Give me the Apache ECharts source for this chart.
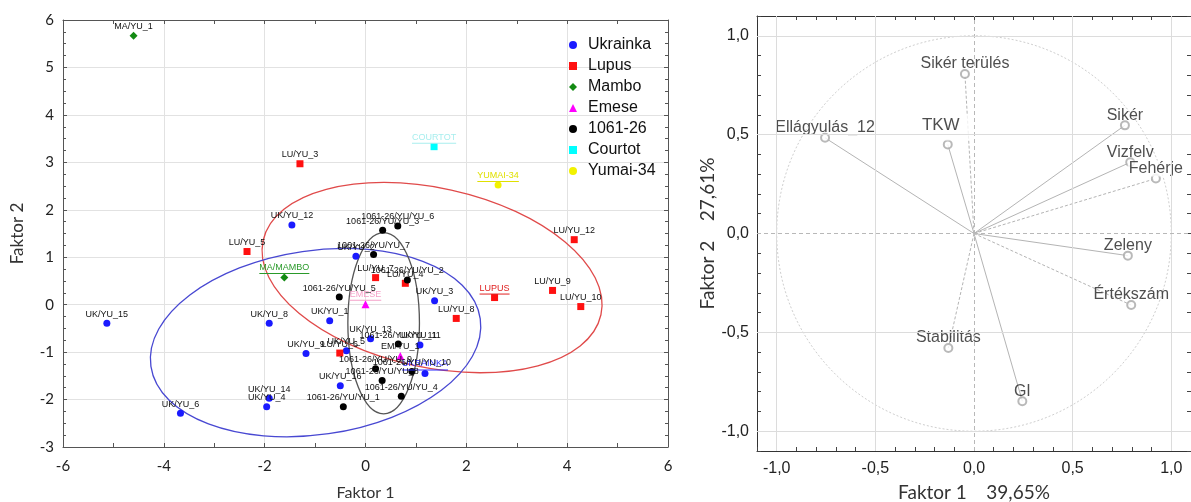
<!DOCTYPE html>
<html><head><meta charset="utf-8">
<script src="https://cdn.jsdelivr.net/npm/echarts@6/dist/echarts.min.js"></script>
<style>html,body{margin:0;padding:0;background:#fff}#c{width:1191px;height:502px}</style>
</head><body><div id="c"></div>
<script>
// ---------- Left panel: factor scores [x, y, label] ----------
const ukrainka = [
  [-1.46, 1.68, 'UK/YU_12'], [-0.19, 1.02, 'UK/YU_2'], [1.37, 0.08, 'UK/YU_3'],
  [-0.71, -0.34, 'UK/YU_1'], [-5.13, -0.39, 'UK/YU_15'], [-1.91, -0.39, 'UK/YU_8'],
  [-1.18, -1.03, 'UK/YU_9'], [-0.38, -0.97, 'UK/YU_5'], [-0.50, -1.71, 'UK/YU_16'],
  [-1.91, -1.97, 'UK/YU_14'], [-1.96, -2.15, 'UK/YU_4'], [-3.67, -2.29, 'UK/YU_6'],
  [0.10, -0.72, 'UK/YU_13'], [1.08, -0.85, 'UK/YU_11'], [1.18, -1.45, 'UKRAINKA']
];
const lupus = [
  [-1.30, 2.97, 'LU/YU_3'], [-2.35, 1.12, 'LU/YU_5'], [4.14, 1.37, 'LU/YU_12'],
  [0.20, 0.57, 'LU/YU_7'], [0.79, 0.45, 'LU/YU_4'], [2.56, 0.15, 'LUPUS'],
  [3.71, 0.30, 'LU/YU_9'], [4.27, -0.04, 'LU/YU_10'], [1.80, -0.29, 'LU/YU_8'],
  [-0.51, -1.02, 'LU/YU_6']
];
const mambo = [[-4.60, 5.67, 'MA/YU_1'], [-1.61, 0.57, 'MA/MAMBO']];
const emese = [[0.00, 0.01, 'EMESE'], [0.69, -1.08, 'EM/YU_1']];
const l106126 = [
  [0.64, 1.66, '1061-26/YU/YU_6'], [0.34, 1.57, '1061-26/YU/YU_3'], [0.16, 1.06, '1061-26/YU/YU_7'],
  [0.83, 0.52, '1061-26/YU/YU_2'], [-0.52, 0.16, '1061-26/YU/YU_5'], [0.65, -0.83, '1061-26/YU/YU_11'],
  [0.20, -1.35, '1061-26/YU/YU_9'], [0.92, -1.41, '1061-26/YU/YU_10'], [0.33, -1.60, '1061-26/YU/YU_8'],
  [0.71, -1.93, '1061-26/YU/YU_4'], [-0.44, -2.15, '1061-26/YU/YU_1']
];
const courtot = [[1.36, 3.33, 'COURTOT']];
const yumai = [[2.63, 2.52, 'YUMAI-34']];
const meanLabels = ['UKRAINKA', 'LUPUS', 'MA/MAMBO', 'EMESE', 'COURTOT', 'YUMAI-34'];

// confidence ellipses: [centerX, centerY, semiAxisX, semiAxisY, rotationDeg]
const ellipseParams = [
  [1.32, 0.57, 3.43, 1.89, -12.4],
  [-0.99, -0.80, 3.30, 1.94, 8.2],
  [0.36, -0.39, 0.71, 1.91, 0]
];
const ellipseColors = ['#e04a4a', '#4848d2', '#555555'];

// ---------- Right panel: factor loadings ----------
const varNames = ['Sikér terülés', 'TKW', 'Ellágyulás_12', 'Sikér', 'Vizfelv', 'Fehérje', 'Zeleny', 'Értékszám', 'Stabilitás', 'GI'];
const varX = [-0.046, -0.133, -0.755, 0.765, 0.792, 0.922, 0.780, 0.797, -0.130, 0.245];
const varY = [0.807, 0.450, 0.484, 0.547, 0.360, 0.278, -0.112, -0.362, -0.579, -0.848];
const varDashed = [true, false, false, false, false, true, false, true, true, false];
const loadTicks = [-1, -0.5, 0, 0.5, 1];

const chart = echarts.init(document.getElementById('c'));
const mctx = document.createElement('canvas').getContext('2d');
function textW(t, font) { mctx.font = font; return mctx.measureText(t).width; }
const LFONT = 'Liberation Sans';

function scoreSeries(name, arr, symbol, color, meanColor, size) {
  return {
    type: 'scatter', name, xAxisIndex: 0, yAxisIndex: 0, symbol, symbolSize: size || 7,
    itemStyle: { color, opacity: 1 }, z: 5,
    label: { show: true, position: 'top', distance: 1, formatter: '{b}', fontSize: 9, fontFamily: LFONT, color: '#111' },
    data: arr.map(p => {
      const d = { value: [p[0], p[1]], name: p[2] };
      if (meanLabels.includes(p[2])) {
        const w = textW(p[2], '9px "' + LFONT + '"');
        d.label = {
          formatter: '{t|' + p[2] + '}\n{u| }', distance: -1,
          rich: {
            t: { color: meanColor, fontSize: 9, fontFamily: LFONT, lineHeight: 10 },
            u: { width: w, height: 1, backgroundColor: meanColor, fontSize: 1, lineHeight: 2 }
          }
        };
      }
      return d;
    })
  };
}

function valueAxisBase(extra) {
  return Object.assign({ type: 'value' }, extra);
}

const leftAxisLine = { onZero: false, lineStyle: { color: '#555' } };
const leftTick = { inside: true, length: 4, lineStyle: { color: '#555' } };

const rightLabelFmt = v => {
  const k = Math.round(v * 10);
  if (k % 5 !== 0) return '';
  const r = k / 10;
  return (r === 0 ? 0 : r).toFixed(1).replace('.', ',');
};

const option = {
  animation: false,
  backgroundColor: '#fff',
  grid: [
    { left: 63, top: 20, width: 605, height: 427, outerBoundsMode: 'none', containLabel: false },
    { left: 757, top: 16, width: 434, height: 435, outerBoundsMode: 'none', containLabel: false }
  ],
  legend: {
    orient: 'vertical', left: 564, top: 32, itemWidth: 8, itemHeight: 8, itemGap: 5,
    textStyle: { fontSize: 16, fontFamily: LFONT, color: '#111', lineHeight: 16, padding: [0, 0, 0, 6] },
    data: ['Ukrainka', 'Lupus', 'Mambo', 'Emese', '1061-26', 'Courtot', 'Yumai-34']
  },
  xAxis: [
    valueAxisBase({ gridIndex: 0, min: -6, max: 6, interval: 2, position: 'bottom',
      name: 'Faktor 1', nameLocation: 'middle', nameGap: 38,
      nameTextStyle: { fontFamily: 'Lato', fontSize: 16, color: '#333' },
      axisLine: leftAxisLine, axisTick: leftTick,
      minorTick: { show: true, splitNumber: 2, length: 4, lineStyle: { color: '#555' } },
      axisLabel: { fontFamily: 'Lato', fontSize: 15, color: '#222', margin: 12 },
      splitLine: { show: true, lineStyle: { color: '#e2e2e2' } } }),
    valueAxisBase({ gridIndex: 0, min: -6, max: 6, interval: 2, position: 'top',
      axisLine: leftAxisLine, axisTick: leftTick,
      minorTick: { show: true, splitNumber: 2, length: 4, lineStyle: { color: '#555' } },
      axisLabel: { show: false }, splitLine: { show: false } }),
    valueAxisBase({ gridIndex: 1, min: -1.1, max: 1.1, interval: 0.1, position: 'bottom',
      name: 'Faktor 1    39,65%', nameLocation: 'middle', nameGap: 32,
      nameTextStyle: { fontFamily: 'Lato', fontSize: 19, color: '#333' },
      axisLine: { onZero: false, lineStyle: { color: '#333' } },
      axisTick: { inside: true, length: 4, lineStyle: { color: '#444' } },
      axisLabel: { formatter: rightLabelFmt, fontFamily: LFONT, fontSize: 16, color: '#222', margin: 10 },
      splitLine: { show: false } }),
    valueAxisBase({ gridIndex: 1, min: -1.1, max: 1.1, interval: 0.1, position: 'top',
      axisLine: { onZero: false, lineStyle: { color: '#333' } },
      axisTick: { inside: true, length: 4, lineStyle: { color: '#444' } },
      axisLabel: { show: false }, splitLine: { show: false } })
  ],
  yAxis: [
    valueAxisBase({ gridIndex: 0, min: -3, max: 6, interval: 1, position: 'left',
      name: 'Faktor 2', nameLocation: 'middle', nameGap: 37,
      nameTextStyle: { fontFamily: 'Lato', fontSize: 17, color: '#333' },
      axisLine: leftAxisLine, axisTick: leftTick,
      minorTick: { show: true, splitNumber: 4, length: 3, lineStyle: { color: '#555' } },
      axisLabel: { fontFamily: 'Lato', fontSize: 15, color: '#222', margin: 9 },
      splitLine: { show: true, lineStyle: { color: '#e2e2e2' } } }),
    valueAxisBase({ gridIndex: 0, min: -3, max: 6, interval: 1, position: 'right',
      axisLine: leftAxisLine, axisTick: leftTick,
      minorTick: { show: true, splitNumber: 4, length: 3, lineStyle: { color: '#555' } },
      axisLabel: { show: false }, splitLine: { show: false } }),
    valueAxisBase({ gridIndex: 1, min: -1.1, max: 1.1, interval: 0.1, position: 'left',
      name: 'Faktor 2    27,61%', nameLocation: 'middle', nameGap: 38,
      nameTextStyle: { fontFamily: 'Lato', fontSize: 19, color: '#333' },
      axisLine: { onZero: false, lineStyle: { color: '#333' } },
      axisTick: { inside: true, length: 4, lineStyle: { color: '#444' } },
      axisLabel: { formatter: rightLabelFmt, fontFamily: LFONT, fontSize: 16, color: '#222', margin: 8 },
      splitLine: { show: false } }),
    valueAxisBase({ gridIndex: 1, min: -1.1, max: 1.1, interval: 0.1, position: 'right',
      axisLine: { onZero: false, lineStyle: { color: '#333' } },
      axisTick: { inside: true, length: 4, lineStyle: { color: '#444' } },
      axisLabel: { show: false }, splitLine: { show: false } })
  ],
  series: [
    {
      type: 'custom', name: 'ellipses', xAxisIndex: 0, yAxisIndex: 0, z: 3, silent: true,
      encode: { x: 0, y: 1 },
      data: ellipseParams,
      renderItem: (params, api) => {
        const c = api.coord([api.value(0), api.value(1)]);
        const rx = api.size([api.value(2), 0])[0];
        const ry = api.size([0, api.value(3)])[1];
        return {
          type: 'ellipse', x: c[0], y: c[1], rotation: api.value(4) * Math.PI / 180,
          shape: { cx: 0, cy: 0, rx, ry },
          style: { fill: 'none', stroke: ellipseColors[params.dataIndex], lineWidth: 1.3 }
        };
      }
    },
    scoreSeries('Ukrainka', ukrainka, 'circle', '#1a1aff', '#2a2aff'),
    scoreSeries('Lupus', lupus, 'rect', '#ff1010', '#e02020'),
    scoreSeries('Mambo', mambo, 'diamond', '#138a13', '#2a9a2a', 8),
    scoreSeries('Emese', emese, 'triangle', '#ff00ff', '#f5a0c8', 8),
    scoreSeries('1061-26', l106126, 'circle', '#000000', '#000000'),
    scoreSeries('Courtot', courtot, 'rect', '#00ffff', '#a8eeee'),
    scoreSeries('Yumai-34', yumai, 'circle', '#f2f200', '#e0e000'),

    // right panel
    {
      type: 'line', name: 'grid', xAxisIndex: 2, yAxisIndex: 2, data: [[0, 0]], showSymbol: false, z: 1,
      lineStyle: { opacity: 0 },
      markLine: {
        silent: true, symbol: ['none', 'none'], label: { show: false }, animation: false,
        lineStyle: { color: '#dcdcdc', width: 1, type: 'solid' },
        data: loadTicks.map(v => ({ xAxis: v, lineStyle: v === 0 ? { type: [4, 3], color: '#b8b8b8' } : {} }))
          .concat(loadTicks.map(v => ({ yAxis: v, lineStyle: v === 0 ? { type: [4, 3], color: '#b8b8b8' } : {} })))
      }
    },
    {
      type: 'custom', name: 'unitCircle', xAxisIndex: 2, yAxisIndex: 2, z: 2, silent: true,
      encode: { x: 0, y: 1 }, data: [[0, 0, 1]],
      renderItem: (params, api) => {
        const c = api.coord([api.value(0), api.value(1)]);
        const rx = api.size([api.value(2), 0])[0];
        const ry = api.size([0, api.value(2)])[1];
        return { type: 'ellipse', shape: { cx: c[0], cy: c[1], rx, ry },
          style: { fill: 'none', stroke: '#cfcfcf', lineWidth: 1, lineDash: [2, 2] } };
      }
    },
    {
      type: 'custom', name: 'vectors', xAxisIndex: 2, yAxisIndex: 2, z: 3, silent: true,
      encode: { x: 0, y: 1 },
      data: varX.map((x, i) => [x, varY[i]]),
      renderItem: (params, api) => {
        const o = api.coord([0, 0]);
        const p = api.coord([api.value(0), api.value(1)]);
        return { type: 'line', shape: { x1: o[0], y1: o[1], x2: p[0], y2: p[1] },
          style: { stroke: '#b4b4b4', lineWidth: 1, lineDash: varDashed[params.dataIndex] ? [3, 2] : null } };
      }
    },
    {
      type: 'scatter', name: 'loadings', xAxisIndex: 2, yAxisIndex: 2, z: 4,
      symbol: 'emptyCircle', symbolSize: 8,
      itemStyle: { color: '#a8a8a8', borderColor: '#a8a8a8', borderWidth: 1 },
      label: { show: true, position: 'top', distance: -3, formatter: '{b}', fontSize: 16, fontFamily: LFONT, color: '#222' },
      data: varNames.map((n, i) => {
        const d = { name: n, value: [varX[i], varY[i]] };
        if (n === 'TKW') d.label = { fontSize: 17, offset: [-3, -2], backgroundColor: '#fff', padding: [2, 15, 7, 7] };
        if (n === 'Fehérje') d.label = { backgroundColor: '#fff', padding: [0, 1, 0, 1] };
        return d;
      })
    }
  ]
};
chart.setOption(option);
</script>
</body></html>
